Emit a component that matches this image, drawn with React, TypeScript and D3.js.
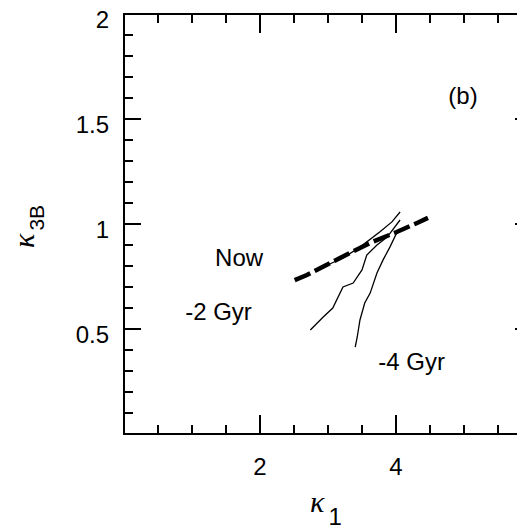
import React from "react";
import * as d3 from "d3";

// κ1 / κ3B tracks
const nowX = [2.51, 2.69, 3.03, 3.32, 3.62, 4.01, 4.31, 4.47];
const nowY = [0.733, 0.757, 0.814, 0.862, 0.91, 0.962, 1.005, 1.029];

const trackAX = [2.96, 3.22, 3.47, 3.76, 3.94, 4.06];
const trackAY = [0.8, 0.838, 0.89, 0.962, 1.01, 1.057];

const gyr2X = [2.74, 2.93, 3.07, 3.22, 3.37, 3.5, 3.57, 3.72, 3.87, 4.06];
const gyr2Y = [0.495, 0.557, 0.6, 0.7, 0.719, 0.781, 0.852, 0.9, 0.938, 1.019];

const gyr4X = [3.4, 3.43, 3.47, 3.54, 3.62, 3.72, 3.81, 3.91, 4.01, 4.1];
const gyr4Y = [0.414, 0.462, 0.543, 0.624, 0.671, 0.767, 0.829, 0.89, 0.957, 0.981];

const xTickLabels = [2, 4];
const yTickLabels = [0.5, 1, 1.5, 2];

const labels = [
  { text: "Now", x: 1.34, y: 0.8 },
  { text: "-2 Gyr", x: 0.9, y: 0.545 },
  { text: "-4 Gyr", x: 3.74, y: 0.305 },
  { text: "(b)", x: 4.77, y: 1.57 },
];

const W = 517;
const H = 530;
const FONT = "'Liberation Sans', Arial, sans-serif";

export default function App() {
  const x = d3.scaleLinear().domain([0, 6]).range([124, 532]);
  const y = d3.scaleLinear().domain([0, 2]).range([434, 14]);

  const line = d3
    .line<[number, number]>()
    .x((d) => x(d[0]))
    .y((d) => y(d[1]));

  const zip = (a: number[], b: number[]) =>
    a.map((v, i) => [v, b[i]] as [number, number]);

  const xMinor = d3.range(0, 6.001, 0.5);
  const yMinor = d3.range(0, 2.001, 0.1);
  const isMajorX = (v: number) => Math.abs(v / 2 - Math.round(v / 2)) < 1e-6;
  const isMajorY = (v: number) => Math.abs(v / 0.5 - Math.round(v / 0.5)) < 1e-6;

  const x0 = x(0), x1 = x(6), y0 = y(0), y1 = y(2);
  const tick = { stroke: "#000", strokeWidth: 2 };

  return (
    <svg
      width={W}
      height={H}
      style={{ position: "absolute", left: 0, top: 0, background: "#fff" }}
    >
      <rect x={0} y={0} width={W} height={H} fill="#fff" />
      {/* ticks */}
      {xMinor.map((v, i) => {
        const len = isMajorX(v) ? 19 : 9;
        return (
          <g key={"xt" + i}>
            <line x1={x(v)} x2={x(v)} y1={y0} y2={y0 - len} {...tick} />
            <line x1={x(v)} x2={x(v)} y1={y1} y2={y1 + len} {...tick} />
          </g>
        );
      })}
      {yMinor.map((v, i) => {
        const len = isMajorY(v) ? 17 : 9;
        return (
          <g key={"yt" + i}>
            <line x1={x0} x2={x0 + len} y1={y(v)} y2={y(v)} {...tick} />
            <line x1={x1} x2={x1 - len} y1={y(v)} y2={y(v)} {...tick} />
          </g>
        );
      })}
      {/* frame */}
      <rect
        x={x0}
        y={y1}
        width={x1 - x0}
        height={y0 - y1}
        fill="none"
        stroke="#000"
        strokeWidth={2}
      />
      {/* tick labels */}
      {xTickLabels.map((v) => (
        <text
          key={"xl" + v}
          x={x(v)}
          y={y0 + 41}
          textAnchor="middle"
          fontFamily={FONT}
          fontSize={24}
        >
          {v}
        </text>
      ))}
      {yTickLabels.map((v) => (
        <text
          key={"yl" + v}
          x={x0 - 15}
          y={y(v) + 14}
          textAnchor="end"
          fontFamily={FONT}
          fontSize={24}
        >
          {v}
        </text>
      ))}
      {/* axis titles */}
      <text x={310} y={512} fontFamily="'Liberation Serif', serif" fontStyle="italic" fontSize={30}>
        κ
        <tspan fontFamily={FONT} fontStyle="normal" fontSize={24} dx={4} dy={13}>
          1
        </tspan>
      </text>
      <text
        transform="translate(34,248) rotate(-90)"
        fontFamily="'Liberation Serif', serif"
        fontStyle="italic"
        fontSize={30}
      >
        κ
        <tspan fontFamily={FONT} fontStyle="normal" fontSize={21} dx={3} dy={10}>
          3B
        </tspan>
      </text>
      {/* data */}
      <path d={line(zip(trackAX, trackAY)) || ""} fill="none" stroke="#000" strokeWidth={1.3} />
      <path d={line(zip(gyr2X, gyr2Y)) || ""} fill="none" stroke="#000" strokeWidth={1.3} />
      <path d={line(zip(gyr4X, gyr4Y)) || ""} fill="none" stroke="#000" strokeWidth={1.3} />
      <path
        d={line(zip(nowX, nowY)) || ""}
        fill="none"
        stroke="#000"
        strokeWidth={4.5}
        strokeDasharray="17,5"
      />
      {/* annotations */}
      {labels.map((l) => (
        <text key={l.text} x={x(l.x)} y={y(l.y)} fontFamily={FONT} fontSize={24}>
          {l.text}
        </text>
      ))}
    </svg>
  );
}
